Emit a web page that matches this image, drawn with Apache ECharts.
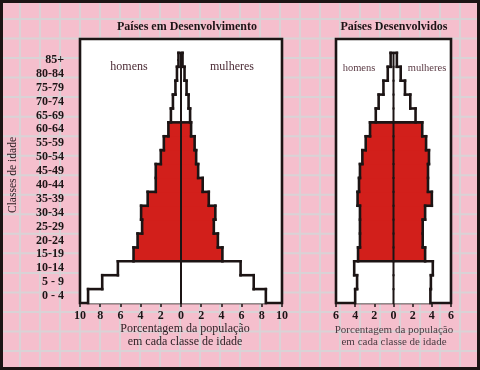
<!DOCTYPE html>
<html><head><meta charset="utf-8">
<script src="https://cdn.jsdelivr.net/npm/echarts@6/dist/echarts.min.js"></script>
<style>html,body{margin:0;padding:0;background:#f5bfcd}#c{width:480px;height:370px}</style>
</head><body><div id="c"></div>
<script>
// ---- data (bottom -> top) ----
const ages = ['0 - 4','5 - 9','10-14','15-19','20-24','25-29','30-34','35-39','40-44','45-49','50-54','55-59','60-64','65-69','70-74','75-79','80-84','85+'];
const devMen   = [9.2, 7.8, 6.25, 4.7, 4.3, 3.85, 3.95, 3.3, 2.5, 2.5, 2.0, 1.7, 1.25, 1.0, 0.8, 0.55, 0.4, 0.25];
const devWomen = [8.4, 7.2, 5.9, 4.1, 3.65, 3.25, 3.4, 2.75, 2.15, 1.7, 1.5, 1.35, 1.0, 0.9, 0.75, 0.55, 0.35, 0.15];
const richMen   = [4.0, 3.8, 4.1, 3.7, 3.5, 3.5, 3.5, 3.75, 3.6, 3.5, 3.25, 2.9, 2.45, 1.85, 1.55, 1.05, 0.6, 0.3];
const richWomen = [3.85, 3.9, 4.1, 3.3, 3.05, 3.05, 3.3, 4.0, 3.6, 3.6, 3.7, 3.4, 3.0, 2.3, 1.75, 1.2, 0.75, 0.35];
const redFrom = 3, redTo = 12; // 15-19 .. 60-64 (working-age groups)
const leftTicks = [-10, 10, 2];
const rightTicks = [-6, 6, 2];
const titles = ['Países em Desenvolvimento', 'Países Desenvolvidos'];
const xName = ['Porcentagem da população', 'em cada classe de idade'];
const yName = 'Classes de idade';
const sexes = ['homens', 'mulheres'];

const INK = '#1c1414', RED = '#d21f1b', PINK = '#f5bfcd', GRIDC = '#d9d3d6';
const SERIF = '"Liberation Serif", "DejaVu Serif", serif';
const cats = ages.concat(['']);
const isRed = i => i >= redFrom && i <= redTo;

function fillRender(men, women) {
  return function (params, api) {
    const i = params.dataIndex;
    const c = api.coord([0, i]);
    const h = api.size([0, 1])[1];
    const xl = api.coord([-men[i], i])[0], xr = api.coord([women[i], i])[0];
    return { type: 'rect', shape: { x: xl, y: c[1] - h / 2 - 0.5, width: xr - xl, height: h + 1 },
      style: { fill: isRed(i) ? RED : '#ffffff' } };
  };
}
function outlineRender(men, women) {
  return function (params, api) {
    const i = params.dataIndex;
    const c = api.coord([0, i]);
    const h = api.size([0, 1])[1];
    const yT = c[1] - h / 2, yB = c[1] + h / 2;
    const xl = api.coord([-men[i], i])[0], xr = api.coord([women[i], i])[0];
    const st = { stroke: INK, lineWidth: 2.6, lineCap: 'square' };
    const seg = (x1, y1, x2, y2, w) => ({ type: 'line', shape: { x1, y1, x2, y2 },
      style: Object.assign({}, st, w ? { lineWidth: w } : {}) });
    const out = [seg(xl, yT, xl, yB), seg(xr, yT, xr, yB), seg(c[0], yT, c[0], yB, 2)];
    if (i === men.length - 1) {
      out.push(seg(xl, yT, xr, yT));
    } else {
      const xl2 = api.coord([-men[i + 1], i + 1])[0], xr2 = api.coord([women[i + 1], i + 1])[0];
      if (isRed(i) !== isRed(i + 1)) out.push(seg(Math.min(xl, xl2), yT, Math.max(xr, xr2), yT));
      else { out.push(seg(xl, yT, xl2, yT)); out.push(seg(xr, yT, xr2, yT)); }
    }
    return { type: 'group', children: out };
  };
}

const graphic = [];
for (let k = 1; k <= 23; k++) graphic.push({ type: 'line', z: -10, silent: true,
  shape: { x1: 20 * k, y1: 0, x2: 20 * k, y2: 370 }, style: { stroke: GRIDC, lineWidth: 2 } });
for (let k = 0; k <= 17; k++) graphic.push({ type: 'line', z: -10, silent: true,
  shape: { x1: 0, y1: 19 + 19.53 * k, x2: 480, y2: 19 + 19.53 * k }, style: { stroke: GRIDC, lineWidth: 2 } });
graphic.push({ type: 'rect', z: 100, silent: true, shape: { x: 1.5, y: 1.5, width: 477, height: 367 },
  style: { fill: 'none', stroke: INK, lineWidth: 3 } });
const txt = (text, x, y, size, weight, color, rot) => ({ type: 'text', z: 50, x, y, rotation: rot || 0,
  style: { text, fontSize: size, fontWeight: weight, fontFamily: SERIF, fill: color,
    align: 'center', verticalAlign: 'middle' } });
graphic.push(txt(titles[0], 187, 27, 12, 'bold', '#1e1416'));
graphic.push(txt(titles[1], 394, 27, 12, 'bold', '#1e1416'));
graphic.push(txt(sexes[0], 129, 67, 12, 'normal', '#4a2a34'));
graphic.push(txt(sexes[1], 232, 67, 12, 'normal', '#4a2a34'));
graphic.push(txt(sexes[0], 359, 68, 10.5, 'normal', '#5a3a44'));
graphic.push(txt(sexes[1], 427, 68, 10.5, 'normal', '#5a3a44'));
graphic.push(txt(xName[0], 185, 329, 12, 'normal', '#2a1e22'));
graphic.push(txt(xName[1], 185, 342, 12, 'normal', '#2a1e22'));
graphic.push(txt(xName[0], 394, 330, 11, 'normal', '#4a3c42'));
graphic.push(txt(xName[1], 394, 342, 11, 'normal', '#4a3c42'));
graphic.push(txt(yName, 13, 175, 11.5, 'normal', '#2a1e22', Math.PI / 2));

const xAx = (gi, t) => ({ type: 'value', gridIndex: gi, min: t[0], max: t[1], interval: t[2],
  axisLine: { show: false }, splitLine: { show: false },
  axisTick: { show: true, length: 4, lineStyle: { color: INK, width: 1.5 } },
  axisLabel: { formatter: v => String(Math.abs(v)), fontFamily: SERIF, fontWeight: 'bold', fontSize: 12,
    color: '#1e1416', margin: 7 } });

const chart = echarts.init(document.getElementById('c'));
chart.setOption({
  backgroundColor: PINK,
  animation: false,
  graphic,
  grid: [
    { left: 80, right: 198, top: 39, bottom: 67, show: true, backgroundColor: '#fff', borderColor: INK, borderWidth: 2.6 },
    { left: 336, right: 29, top: 39, bottom: 67, show: true, backgroundColor: '#fff', borderColor: INK, borderWidth: 2.6 }
  ],
  xAxis: [xAx(0, leftTicks), xAx(1, rightTicks)],
  yAxis: [
    { type: 'category', gridIndex: 0, data: cats, boundaryGap: true,
      axisLine: { show: false }, splitLine: { show: false },
      axisTick: { show: true, alignWithLabel: true, length: 4, interval: (i, v) => v !== '', lineStyle: { color: INK, width: 1.5 } },
      axisLabel: { interval: 0, fontFamily: SERIF, fontWeight: 'bold', fontSize: 12, color: '#1e1416', margin: 16 } },
    { type: 'category', gridIndex: 1, data: cats, boundaryGap: true,
      axisLine: { show: false }, splitLine: { show: false }, axisTick: { show: false }, axisLabel: { show: false } }
  ],
  series: [
    { type: 'custom', xAxisIndex: 0, yAxisIndex: 0, z: 3, renderItem: fillRender(devMen, devWomen),
      data: ages.map((a, i) => [-devMen[i], devWomen[i], i]), encode: { x: [0, 1], y: 2 } },
    { type: 'custom', xAxisIndex: 0, yAxisIndex: 0, z: 4, renderItem: outlineRender(devMen, devWomen),
      data: ages.map((a, i) => [-devMen[i], devWomen[i], i]), encode: { x: [0, 1], y: 2 } },
    { type: 'custom', xAxisIndex: 1, yAxisIndex: 1, z: 3, renderItem: fillRender(richMen, richWomen),
      data: ages.map((a, i) => [-richMen[i], richWomen[i], i]), encode: { x: [0, 1], y: 2 } },
    { type: 'custom', xAxisIndex: 1, yAxisIndex: 1, z: 4, renderItem: outlineRender(richMen, richWomen),
      data: ages.map((a, i) => [-richMen[i], richWomen[i], i]), encode: { x: [0, 1], y: 2 } }
  ]
});
</script></body></html>
